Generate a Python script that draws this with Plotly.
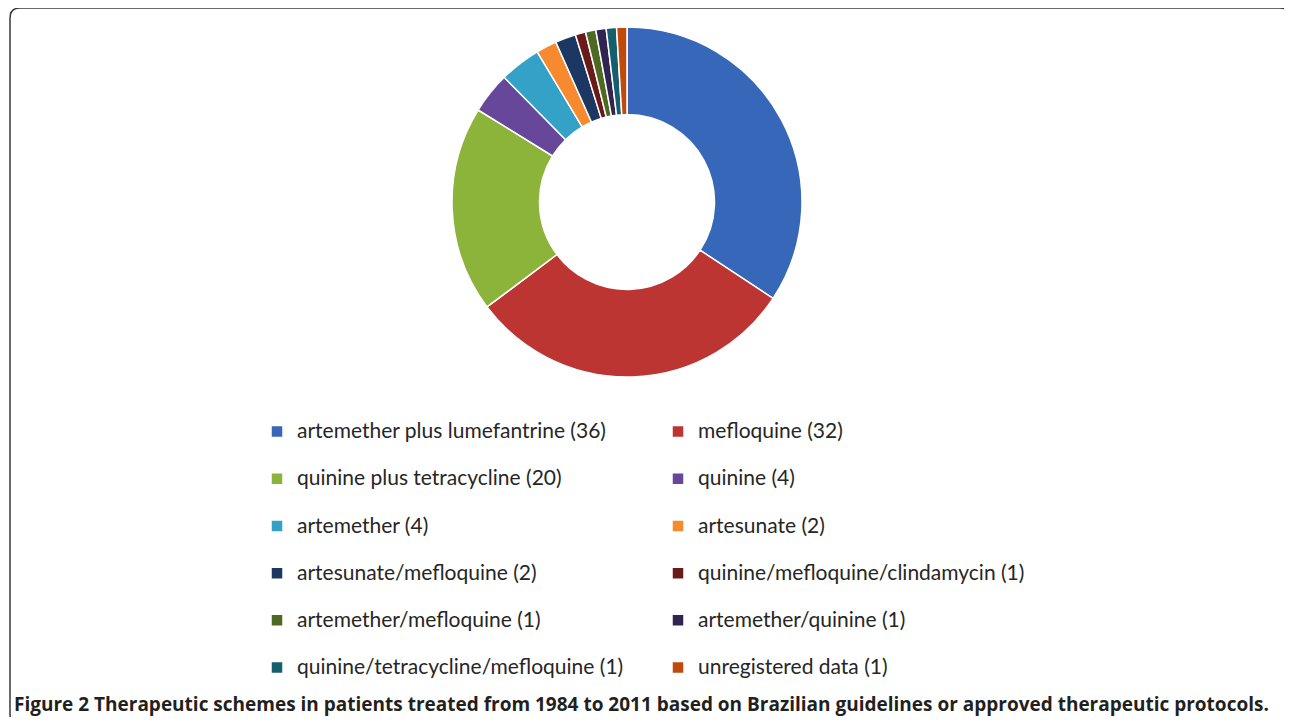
import plotly.graph_objects as go

# ---- data ----
schemes = [
    "artemether plus lumefantrine",
    "mefloquine",
    "quinine plus tetracycline",
    "quinine",
    "artemether",
    "artesunate",
    "artesunate/mefloquine",
    "quinine/mefloquine/clindamycin",
    "artemether/mefloquine",
    "artemether/quinine",
    "quinine/tetracycline/mefloquine",
    "unregistered data",
]
patients = [36, 32, 20, 4, 4, 2, 2, 1, 1, 1, 1, 1]
slice_colors = [
    "#3667b8", "#bc3532", "#8cb43a", "#67479a", "#33a2c6", "#f7892f",
    "#1c3862", "#6a1a19", "#4e6a22", "#2f2550", "#155e6e", "#c04a0a",
]
caption = ("Figure 2 Therapeutic schemes in patients treated from 1984 to 2011 "
           "based on Brazilian guidelines or approved therapeutic protocols.")

# ---- layout helpers (screen pixel -> paper) ----
PAGE_OFF = 8          # default body margin of the page
W_FIG, H_FIG = 1292 - PAGE_OFF, 725 - 2 * PAGE_OFF
ML, MR = 200, 200
PW = W_FIG - ML - MR


def px(x):
    return (x - PAGE_OFF - ML) / PW


def py(y):
    return 1 - (y - PAGE_OFF) / H_FIG


labels = [
    f'<span style="font-size:21px">{s} ({n})</span><br>\u00a0'
    for s, n in zip(schemes, patients)
]

fig = go.Figure()
fig.add_trace(go.Pie(
    labels=labels,
    values=patients,
    hole=0.5,
    sort=False,
    direction="clockwise",
    rotation=0,
    textinfo="none",
    marker=dict(colors=slice_colors, line=dict(color="white", width=1.5)),
    domain=dict(x=[px(452), px(802)], y=[py(377), py(27)]),
    showlegend=True,
))

# rounded frame
x0, x1, y0, y1, r = 10, 1290, 8, 724, 10
path = (
    f"M {px(x0 + r)},{py(y0)} L {px(x1 - r)},{py(y0)} "
    f"Q {px(x1)},{py(y0)} {px(x1)},{py(y0 + r)} "
    f"L {px(x1)},{py(y1 - r)} Q {px(x1)},{py(y1)} {px(x1 - r)},{py(y1)} "
    f"L {px(x0 + r)},{py(y1)} Q {px(x0)},{py(y1)} {px(x0)},{py(y1 - r)} "
    f"L {px(x0)},{py(y0 + r)} Q {px(x0)},{py(y0)} {px(x0 + r)},{py(y0)} Z"
)

fig.update_layout(
    width=W_FIG,
    height=H_FIG,
    margin=dict(l=ML, r=MR, t=0, b=0),
    paper_bgcolor="white",
    plot_bgcolor="white",
    legend=dict(
        orientation="h",
        entrywidth=356,
        entrywidthmode="pixels",
        x=px(257), xanchor="left",
        y=py(414), yanchor="top",
        font=dict(family="Lato", size=17, color="#262626"),
        valign="top",
        traceorder="normal",
        bgcolor="rgba(0,0,0,0)",
    ),
    shapes=[dict(type="path", path=path, xref="paper", yref="paper",
                 line=dict(color="#3a3a3a", width=1.5))],
    annotations=[dict(
        text=f"<b>{caption}</b>",
        x=px(12), xanchor="left", xref="paper",
        y=py(704), yanchor="middle", yref="paper",
        showarrow=False,
        font=dict(family="Open Sans", size=19, color="#231f20"),
    )],
)

fig.write_html("out.html")
